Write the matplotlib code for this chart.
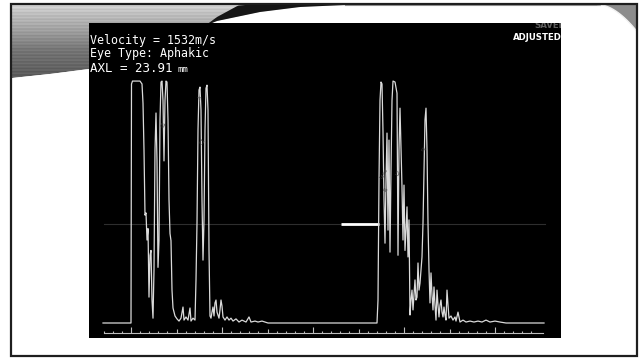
import numpy as np
import matplotlib.pyplot as plt
from matplotlib.patches import Polygon, Rectangle

# A-scan trace: distance (samples from gate start) and echo amplitude (%)
echo_x = [0, 28, 28.5, 29.5, 37, 39, 40, 41, 42, 43,
          44, 45, 46, 47, 48, 49, 50, 51, 52, 53,
          54, 55, 56, 57, 58, 59, 60, 61, 62, 63,
          64, 65, 66, 67, 68, 69, 70, 72, 74, 76,
          78, 80, 81, 83, 85, 87, 88, 90, 92, 93,
          94, 95, 96, 97, 98, 99, 100, 101, 102, 103,
          104, 105, 106, 107, 108, 109, 110, 111, 112, 113,
          114, 116, 117, 118, 119, 120, 122, 124, 126, 128,
          130, 133, 136, 139, 143, 146, 148, 152, 155, 159, 165]
echo_amp = [0, 0, 98.8, 100, 100, 98.8, 90.9, 71.5, 44.6, 45.5,
            34.3, 39, 10.7, 28, 30, 9.5, 2, 22, 71.5, 86.8,
            67, 23, 34, 84, 99.6, 100, 92, 67, 92, 100,
            99.6, 84, 51, 37, 34, 13.6, 6.2, 2.9, 1.7, 0.8,
            2, 6.6, 1.2, 2.5, 1.2, 6.2, 0.8, 2, 1.2, 17.8,
            41.3, 79.8, 96.3, 97.5, 88, 50.8, 26, 42.6, 79.8, 97,
            98.3, 88, 30, 2.9, 2, 4.5, 6.6, 2.9, 8.3, 9.5,
            4.5, 2, 5.4, 9.5, 7, 2.5, 1.2, 2.5, 1.2, 2,
            0.8, 1.7, 0.4, 1.2, 0.4, 2.5, 0.4, 0.8, 0.4, 0.8, 0]

retina_x = [274, 275, 276, 277, 278, 279, 280, 281, 282, 283,
            284, 285, 286, 287, 288, 289, 290, 292, 294, 295,
            296, 297, 298, 299, 300, 301, 302, 303, 304, 305,
            306, 307, 308, 309, 310, 311, 312, 313, 314, 315,
            316, 317, 318, 319, 320, 321, 322, 323, 324, 325,
            326, 327, 328, 329, 330, 331, 332, 333, 334, 335,
            336, 337, 338, 339, 340, 341, 342, 343, 344, 345,
            346, 348, 350, 352, 353, 355, 357, 360, 363, 367,
            371, 375, 379, 383, 387, 392, 397, 403, 441]
retina_amp = [0, 9.5, 59, 92, 99.6, 98.8, 79, 51, 33, 59,
              78.5, 38.4, 75.6, 29.3, 63, 92, 100, 99.6, 95, 28,
              71.5, 88.8, 71.5, 56, 34.3, 57, 30, 38.4, 48, 27.3,
              42.6, 3.3, 9.5, 13.6, 5.4, 11.6, 17.8, 9.5, 10.7, 24.8,
              13.6, 16.5, 21.9, 27.3, 41.3, 63, 84, 88.8, 71.5, 41.3,
              22, 8.3, 20.7, 11.6, 5.4, 14.9, 7.4, 1.2, 13.6, 7.4,
              2.5, 7.4, 9.5, 4.5, 2.5, 6.6, 3.3, 1.2, 13.6, 7.4,
              2, 2.9, 1.2, 2.5, 0.8, 4.5, 0.4, 1.2, 0.4, 0.8,
              0.4, 0.8, 0.4, 1.2, 0.4, 0.8, 0.4, 0, 0]

gate_amp = 40.9
gate_bar = [238, 276]
info_lines = ['Velocity = 1532m/s', 'Eye Type: Aphakic']
axl_text = ['AXL = 23.91', 'mm']
peak_marks = [('C1', 61, 82), ('A', 97, 93), ('C2', 100, 75),
              ('Lens', 281, 62), ('R', 283, 55), ('L2', 296, 62), ('Rt', 322, 72)]

fig = plt.figure(figsize=(6.39, 3.58), dpi=100)
bg = fig.add_axes([0, 0, 1, 1])
bg.set_xlim(0, 639)
bg.set_ylim(358, 0)
bg.axis('off')

# slide decoration: grey swoosh top-left
bx = [12, 50, 89, 150, 217, 260, 300, 345]
by = [78, 74, 69, 48, 21, 12, 7, 5]
xs = np.linspace(12, 345, 200)
ys = np.interp(xs, bx, by)
band = Polygon(list(zip(xs, ys)) + [(345, 4.5), (12, 4.5)], closed=True, fc='none', ec='none')
bg.add_patch(band)
yy = np.linspace(4, 80, 120)
shade = np.interp(yy, [4, 12, 30, 50, 70, 80], [0.85, 0.76, 0.63, 0.46, 0.38, 0.35])
shade = shade + 0.035 * np.sin(yy * 1.9)
im = bg.imshow(np.tile(shade[:, None], (1, 40)), cmap='gray', vmin=0, vmax=1,
               extent=[12, 345, 80, 4], aspect='auto', zorder=1)
im.set_clip_path(band)
bg.plot(xs, ys + 0.6, color='white', lw=0.8, zorder=2)

# dark wedge of the swoosh
wx = np.linspace(205, 345, 80)
wy = np.interp(wx, bx, by)
wt = np.interp(wx, [205, 238, 262, 345], [0, 11, 8, 0])
wedge = Polygon(list(zip(wx, wy)) + list(zip(wx[::-1], np.maximum(wy - wt, 4.5)[::-1])),
                closed=True, fc='#161616', ec='none', zorder=2)
bg.add_patch(wedge)

# page curl top-right
cx = np.linspace(598, 637, 40)
cy = 4.5 + 27 * ((cx - 598) / 39) ** 1.8
curl = Polygon(list(zip(cx, cy)) + [(637, 4.5)], closed=True, fc='#8c8c8c', ec='none', zorder=2)
bg.add_patch(curl)
bg.plot(cx, cy, color='#f2f2f2', lw=1.0, zorder=3)
bg.plot([345, 600], [5, 5], color='#9a9a9a', lw=0.8, zorder=2)

bg.add_patch(Rectangle((11, 4), 626, 352, fill=False, ec='#1e1e1e', lw=1.6, zorder=5))

# instrument screen
ax = fig.add_axes([89 / 639, 20 / 358, 472 / 639, 315 / 358])
ax.set_facecolor('black')
ax.set_xlim(-14, 458)
ax.set_ylim(-6.2, 124)
for sp in ax.spines.values():
    sp.set_visible(False)
ax.set_xticks([])
ax.set_yticks([])

ax.plot([1, 442], [gate_amp, gate_amp], color='#2e2e2e', lw=0.8)
ax.plot(gate_bar, [gate_amp, gate_amp], color='white', lw=2.0, solid_capstyle='butt')
ax.plot(echo_x + retina_x, echo_amp + retina_amp, color='#dadada', lw=0.9)

# depth scale
k = np.arange(48)
tick_s = 0.7 + 9.1 * k
tick_h = np.where((k - 3) % 10 == 0, 2.3, np.where((k - 3) % 5 == 0, 1.6, 0.9))
ax.plot([1, 440], [-4.13, -4.13], color='#bdbdbd', lw=0.8)
ax.vlines(tick_s, -4.13, -4.13 + tick_h, color='#bdbdbd', lw=0.8)

for name, s, a in peak_marks:
    ax.text(s, a, name, fontsize=3.5, color='#3a3a3a', rotation=60, ha='center', va='center')

mono = 'DejaVu Sans Mono'
for i, line in enumerate(info_lines):
    ax.text(90, 40.5 + 13 * i, line, transform=bg.transData, color='white',
            fontsize=8.4, family=mono, va='center', ha='left')
ax.text(90, 69, axl_text[0], transform=bg.transData, color='white',
        fontsize=9, family=mono, va='center', ha='left')
ax.text(177, 69.5, axl_text[1], transform=bg.transData, color='white',
        fontsize=6.5, family=mono, va='center', ha='left')
ax.text(562, 37, 'ADJUSTED', transform=bg.transData, color='white', fontsize=6.2,
        fontweight='bold', va='center', ha='right', clip_on=True)
ax.text(566, 26, 'SAVED', transform=bg.transData, color='#5e5e5e', fontsize=6.2,
        fontweight='bold', va='center', ha='right', clip_on=True)

fig.savefig('out.png', dpi=100, facecolor='white')
